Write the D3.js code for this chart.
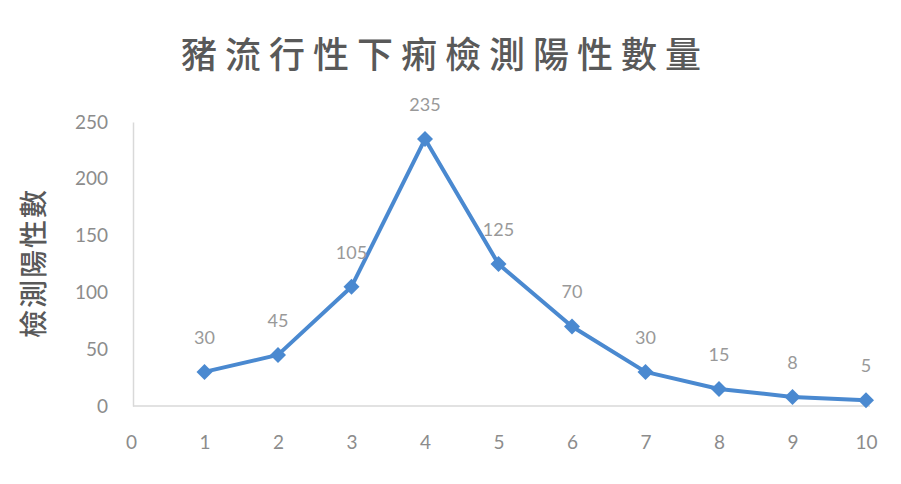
<!DOCTYPE html>
<html>
<head>
<meta charset="utf-8">
<script src="https://cdn.jsdelivr.net/npm/d3@7"></script>
<style>
  body { margin: 0; background: #fff; }
  text { font-family: Lato, "Noto Sans", sans-serif; }
  .cjk { font-family: "Noto Sans CJK TC", "Noto Sans CJK SC", sans-serif; }
</style>
</head>
<body>
<div id="container"></div>
<script>
// week number and positive test count
var weeks = [1, 2, 3, 4, 5, 6, 7, 8, 9, 10];
var positives = [30, 45, 105, 235, 125, 70, 30, 15, 8, 5];
var xTicks = [0, 1, 2, 3, 4, 5, 6, 7, 8, 9, 10];
var yTicks = [0, 50, 100, 150, 200, 250];
var title = "豬流行性下痢檢測陽性數量";
var yTitle = "檢測陽性數";

var W = 901, H = 484;
var svg = d3.select('#container').append('svg')
  .attr('width', W).attr('height', H);

var x = d3.scaleLinear().domain([0, 10]).range([131, 866]);
var y = d3.scaleLinear().domain([0, 250]).range([406, 122]);

var grey = '#8c8c8c';
var blue = '#4a89d0';

// title
svg.append('text')
  .attr('class', 'cjk')
  .attr('x', 445).attr('y', 68)
  .attr('text-anchor', 'middle')
  .attr('font-size', 36).attr('font-weight', 500)
  .attr('letter-spacing', 8)
  .attr('fill', '#595959')
  .text(title);

// y axis title
svg.append('text')
  .attr('class', 'cjk')
  .attr('transform', 'translate(44,263) rotate(-90)')
  .attr('text-anchor', 'middle')
  .attr('font-size', 28).attr('font-weight', 500)
  .attr('letter-spacing', 2)
  .attr('fill', '#595959')
  .text(yTitle);

// axes
var yAxis = svg.append('g')
  .attr('transform', 'translate(' + 133 + ',0)')
  .call(d3.axisLeft(y).tickValues(yTicks).tickSize(0).tickPadding(25));
var xAxis = svg.append('g')
  .attr('transform', 'translate(0,' + 406 + ')')
  .call(d3.axisBottom(x).tickValues(xTicks).tickSize(0).tickPadding(30));

[yAxis, xAxis].forEach(function(a) {
  a.select('.domain').attr('stroke', '#d9d9d9').attr('stroke-width', 1.5);
  a.selectAll('text').attr('fill', grey).attr('font-size', 19)
    .attr('font-family', 'Lato, "Noto Sans", sans-serif');
});
xAxis.select('.domain').attr('d', 'M133,0H870');

// line
var pts = weeks.map(function(w, i) { return { w: w, v: positives[i] }; });
var line = d3.line()
  .x(function(d) { return x(d.w); })
  .y(function(d) { return y(d.v); });

svg.append('path')
  .datum(pts)
  .attr('d', line)
  .attr('fill', 'none')
  .attr('stroke', blue)
  .attr('stroke-width', 4)
  .attr('stroke-linejoin', 'round');

// square diamonds, like the spreadsheet markers
var r = 8;
svg.selectAll('path.marker')
  .data(pts)
  .enter().append('path')
  .attr('class', 'marker')
  .attr('d', 'M0,' + (-r) + 'L' + r + ',0L0,' + r + 'L' + (-r) + ',0Z')
  .attr('transform', function(d) {
    return 'translate(' + x(d.w) + ',' + y(d.v) + ')';
  })
  .attr('fill', blue);

svg.selectAll('text.lbl')
  .data(pts)
  .enter().append('text')
  .attr('class', 'lbl')
  .attr('x', function(d) { return x(d.w); })
  .attr('y', function(d) { return y(d.v) - 28; })
  .attr('text-anchor', 'middle')
  .attr('font-size', 18)
  .attr('fill', '#999')
  .text(function(d) { return d.v; });
</script>
</body>
</html>
